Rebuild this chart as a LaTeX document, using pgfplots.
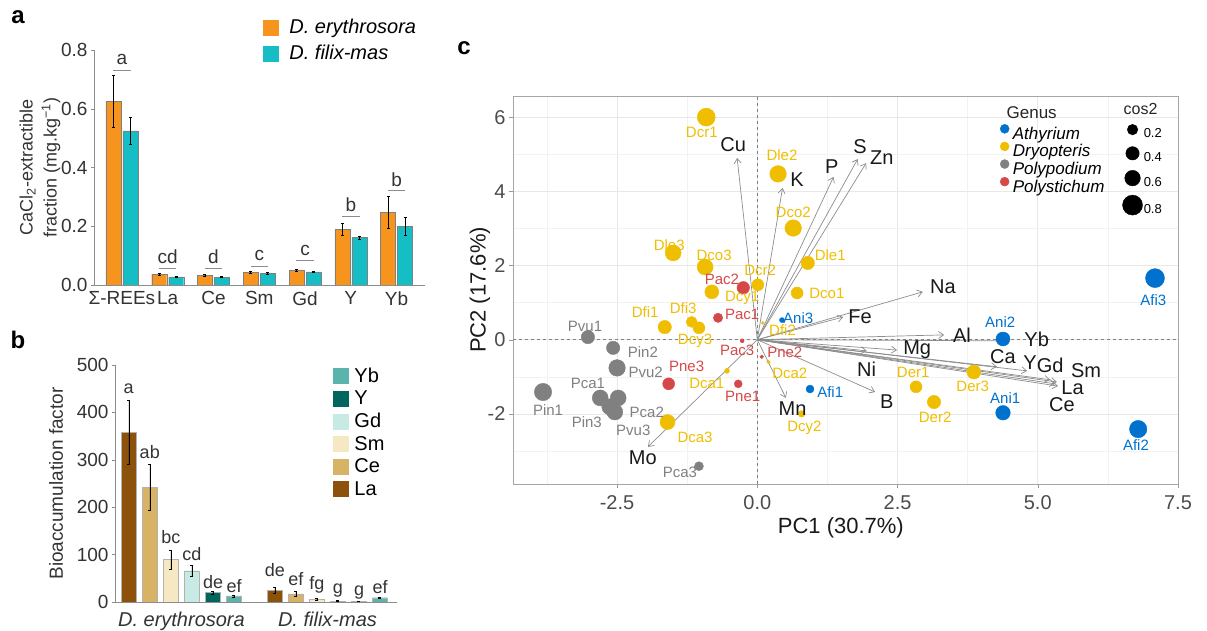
\documentclass[border=0pt]{standalone}
\usepackage{pgfplots}
\pgfplotsset{compat=1.18}
\usepackage{fontspec}
\setmainfont{Liberation Sans}
\usetikzlibrary{arrows.meta}
\pgfplotsset{/pgf/number format/assume math mode=true}

\definecolor{cor}{RGB}{247,148,29}
\definecolor{cte}{RGB}{20,190,196}
\definecolor{cLa}{HTML}{8C510A}
\definecolor{cCe}{HTML}{D8B365}
\definecolor{cSm}{HTML}{F6E8C3}
\definecolor{cGd}{HTML}{C7EAE5}
\definecolor{cY}{HTML}{01665E}
\definecolor{cYb}{HTML}{5AB4AC}
\definecolor{cblue}{RGB}{0,114,206}
\definecolor{cyel}{RGB}{240,190,0}
\definecolor{cgray}{RGB}{128,128,128}
\definecolor{cred}{RGB}{214,72,72}
\newcommand{\fz}[1]{\fontsize{#1}{#1}\selectfont}

\begin{document}
\begin{tikzpicture}
\path[use as bounding box] (0pt,0pt) rectangle (1207pt,631pt);
\node[font=\bfseries\fz{24}] at (18pt,614pt) {a};
\node[font=\bfseries\fz{24}] at (18pt,291pt) {b};
\node[font=\bfseries\fz{24}] at (464pt,583pt) {c};

% ---------------- panel a
\begin{axis}[
  at={(94pt,346pt)}, anchor=south west, scale only axis,
  width=331pt, height=235pt,
  xmin=-0.61, xmax=6.62, ymin=0, ymax=0.8,
  axis lines*=left, axis line style={black!45, line width=0.8pt},
  ybar=2pt, bar width=15pt,
  xtick={0,1,2,3,4,5,6}, xticklabels={Σ-REEs,La,Ce,Sm,Gd,Y,Yb},
  ytick={0,0.2,0.4,0.6,0.8},
  yticklabel style={/pgf/number format/fixed, /pgf/number format/fixed zerofill, /pgf/number format/precision=1},
  tick label style={font=\fz{19}, text=black!80},
  xtick style={draw=none},
  tick align=outside, major tick length=3pt, ytick style={black!45},
  ylabel={CaCl\textsubscript{2}-extractible\\fraction (mg.kg\textsuperscript{−1})},
  ylabel style={at={(axis description cs:-0.163,0.5)}, anchor=center, align=center, font=\fontsize{18}{24}\selectfont, text=black!80},
  legend style={at={(axis description cs:0.51,1.14)}, anchor=north west, draw=none, fill=none, font=\fz{20}, row sep=6pt, inner sep=0pt},
  legend cell align=left,
]
\addplot[fill=cor, draw=black!50, line width=0.4pt,
  legend image code/.code={\fill[cor] (0pt,-7.5pt) rectangle (15pt,7.5pt); \path (24pt,0pt);},
  error bars/.cd, y dir=both, y explicit,
  error bar style={black, line width=0.6pt},
  error mark options={rotate=90, mark size=1.5pt, black, line width=0.6pt}]
  coordinates {
  (0,0.626) +- (0,0.088)
  (1,0.037) +- (0,0.004)
  (2,0.032) +- (0,0.003)
  (3,0.042) +- (0,0.003)
  (4,0.049) +- (0,0.004)
  (5,0.190) +- (0,0.020)
  (6,0.247) +- (0,0.055)
};
\addlegendentry{\textit{D. erythrosora}}
\addplot[fill=cte, draw=black!50, line width=0.4pt,
  legend image code/.code={\fill[cte] (0pt,-7.5pt) rectangle (15pt,7.5pt); \path (24pt,0pt);},
  error bars/.cd, y dir=both, y explicit,
  error bar style={black, line width=0.6pt},
  error mark options={rotate=90, mark size=1.5pt, black, line width=0.6pt}]
  coordinates {
  (0,0.525) +- (0,0.045)
  (1,0.028) +- (0,0.002)
  (2,0.027) +- (0,0.001)
  (3,0.039) +- (0,0.003)
  (4,0.045) +- (0,0.002)
  (5,0.162) +- (0,0.005)
  (6,0.199) +- (0,0.030)
};
\addlegendentry{\textit{D. filix-mas}}
\begin{scope}[font=\fz{19}, text=black!80]
\node at (axis cs:0,0.766) {a};
\node at (axis cs:1,0.095) {cd};
\node at (axis cs:2,0.095) {d};
\node at (axis cs:3,0.102) {c};
\node at (axis cs:4,0.119) {c};
\node at (axis cs:5,0.272) {b};
\node at (axis cs:6,0.357) {b};
\end{scope}
\begin{scope}[black!45, line width=0.8pt]
\draw (axis cs:-0.19,0.732) -- (axis cs:0.19,0.732);
\draw (axis cs:0.81,0.058) -- (axis cs:1.19,0.058);
\draw (axis cs:1.81,0.058) -- (axis cs:2.19,0.058);
\draw (axis cs:2.81,0.065) -- (axis cs:3.19,0.065);
\draw (axis cs:3.81,0.085) -- (axis cs:4.19,0.085);
\draw (axis cs:4.81,0.235) -- (axis cs:5.19,0.235);
\draw (axis cs:5.81,0.323) -- (axis cs:6.19,0.323);
\end{scope}
\end{axis}

% ---------------- panel b
\begin{axis}[
  at={(115pt,29pt)}, anchor=south west, scale only axis,
  width=282pt, height=237pt,
  xmin=-0.455, xmax=1.476, ymin=0, ymax=500,
  axis lines*=left, axis line style={black!45, line width=0.8pt},
  ybar=6pt, bar width=15pt,
  xtick={0,1}, xticklabels={\textit{D. erythrosora},\textit{D. filix-mas}},
  ytick={0,100,200,300,400,500},
  tick label style={font=\fz{19}, text=black!80},
  x tick label style={font=\fz{20}, yshift=-3pt},
  xtick style={draw=none},
  tick align=outside, major tick length=3pt, ytick style={black!45},
  ylabel={Bioaccumulation factor},
  ylabel style={at={(axis description cs:-0.209,0.5)}, anchor=center, font=\fz{19}, text=black!80},
  legend style={at={(axis description cs:0.773,0.996)}, anchor=north west, draw=none, fill=none, font=\fz{20}, row sep=3pt, inner sep=0pt},
  legend cell align=left, reverse legend,
  every axis plot/.append style={draw=black!30, line width=0.3pt},
]
\addplot[fill=cLa, legend image code/.code={\fill[cLa] (0pt,-7.5pt) rectangle (15pt,7.5pt); \path (19pt,0pt);},
  error bars/.cd, y dir=both, y explicit, error bar style={black, line width=0.6pt},
  error mark options={rotate=90, mark size=1.5pt, black}]
  coordinates {(0,358) +- (0,67) (1,25) +- (0,6)};
\addlegendentry{La}
\addplot[fill=cCe, legend image code/.code={\fill[cCe] (0pt,-7.5pt) rectangle (15pt,7.5pt); \path (19pt,0pt);},
  error bars/.cd, y dir=both, y explicit, error bar style={black, line width=0.6pt},
  error mark options={rotate=90, mark size=1.5pt, black}]
  coordinates {(0,242) +- (0,49) (1,17) +- (0,5)};
\addlegendentry{Ce}
\addplot[fill=cSm, legend image code/.code={\fill[cSm] (0pt,-7.5pt) rectangle (15pt,7.5pt); \path (19pt,0pt);},
  error bars/.cd, y dir=both, y explicit, error bar style={black, line width=0.6pt},
  error mark options={rotate=90, mark size=1.5pt, black}]
  coordinates {(0,90) +- (0,20) (1,5) +- (0,2)};
\addlegendentry{Sm}
\addplot[fill=cGd, legend image code/.code={\fill[cGd] (0pt,-7.5pt) rectangle (15pt,7.5pt); \path (19pt,0pt);},
  error bars/.cd, y dir=both, y explicit, error bar style={black, line width=0.6pt},
  error mark options={rotate=90, mark size=1.5pt, black}]
  coordinates {(0,66) +- (0,12) (1,2) +- (0,1)};
\addlegendentry{Gd}
\addplot[fill=cY, legend image code/.code={\fill[cY] (0pt,-7.5pt) rectangle (15pt,7.5pt); \path (19pt,0pt);},
  error bars/.cd, y dir=both, y explicit, error bar style={black, line width=0.6pt},
  error mark options={rotate=90, mark size=1.5pt, black}]
  coordinates {(0,20) +- (0,3) (1,1) +- (0,0.5)};
\addlegendentry{Y}
\addplot[fill=cYb, legend image code/.code={\fill[cYb] (0pt,-7.5pt) rectangle (15pt,7.5pt); \path (19pt,0pt);},
  error bars/.cd, y dir=both, y explicit, error bar style={black, line width=0.6pt},
  error mark options={rotate=90, mark size=1.5pt, black}]
  coordinates {(0,13) +- (0,2) (1,9) +- (0,2)};
\addlegendentry{Yb}
\begin{scope}[font=\fz{18}, text=black!80]
\node at (axis cs:-0.361,449) {a};
\node at (axis cs:-0.217,317) {ab};
\node at (axis cs:-0.072,137) {bc};
\node at (axis cs:0.072,101) {cd};
\node at (axis cs:0.217,43) {de};
\node at (axis cs:0.361,34) {ef};
\node at (axis cs:0.639,68) {de};
\node at (axis cs:0.783,49) {ef};
\node at (axis cs:0.928,36) {fg};
\node at (axis cs:1.072,25) {g};
\node at (axis cs:1.217,19) {g};
\node at (axis cs:1.361,32) {ef};
\end{scope}
\end{axis}

% ---------------- panel c
\begin{axis}[
  at={(513pt,147pt)}, anchor=south west, scale only axis,
  width=665pt, height=388pt,
  xmin=-4.355, xmax=7.5, ymin=-3.89, ymax=6.57,
  xtick={-2.5,0,2.5,5,7.5}, ytick={-2,0,2,4,6},
  minor xtick={-3.75,-1.25,1.25,3.75,6.25}, minor ytick={-3,-1,1,3,5},
  grid=both, major grid style={black!9, line width=0.6pt}, minor grid style={black!5, line width=0.5pt},
  axis line style={black!35, line width=0.9pt},
  tick align=outside, major tick length=4pt, minor tick length=0pt,
  tick style={black!40}, xtick pos=bottom, ytick pos=left,
  xticklabel style={/pgf/number format/fixed, /pgf/number format/fixed zerofill, /pgf/number format/precision=1, yshift=-4pt},
  tick label style={font=\fz{20}, text=black!70},
  xlabel={PC1 (30.7\%)}, ylabel={PC2 (17.6\%)},
  xlabel style={at={(axis description cs:0.493,-0.113)}, anchor=center, font=\fz{22}, text=black!90},
  ylabel style={at={(axis description cs:-0.0496,0.5)}, anchor=center, font=\fz{22}, text=black!90},
  legend style={at={(axis description cs:0.732,0.928)}, anchor=north west, draw=none, fill=none, font=\itshape\fz{17}, row sep=0pt, inner sep=0pt, nodes={inner sep=1pt}},
  legend cell align=left,
]
\addplot[black!50, dash pattern=on 3pt off 3pt, line width=0.8pt, forget plot] coordinates {(0,-3.89) (0,6.57)};
\addplot[black!50, dash pattern=on 3pt off 3pt, line width=0.8pt, forget plot] coordinates {(-4.355,0) (7.5,0)};
\addplot[black!45, line width=0.7pt, -{Straight Barb[length=5pt,width=7pt]}, forget plot,
  quiver={u=\thisrow{u}, v=\thisrow{v}}] table {
x y u v
0 0 -0.36 4.90
0 0 0.45 4.09
0 0 1.36 4.39
0 0 1.79 4.87
0 0 1.94 4.76
0 0 2.95 1.29
0 0 1.53 0.61
0 0 3.33 0.13
0 0 4.45 -0.03
0 0 2.49 -0.28
0 0 1.95 -0.30
0 0 4.27 -0.73
0 0 4.81 -0.84
0 0 5.22 -1.08
0 0 5.34 -1.14
0 0 5.36 -1.25
0 0 5.31 -1.19
0 0 2.10 -1.41
0 0 0.51 -1.57
0 0 -1.95 -2.89
};
% points
\addplot[scatter, only marks, mark=*, forget plot,
  scatter/use mapped color={draw=cyel, fill=cyel},
  visualization depends on={\thisrow{r}\as\rr},
  scatter/@pre marker code/.append style={/tikz/mark size=\rr}] table {
x y r
-0.91 6.00 9
0.37 4.47 8.3
0.64 3.01 8.3
-1.50 2.34 8
-0.93 1.96 8
0.90 2.07 6.7
0.01 1.48 6
-0.81 1.29 7
0.71 1.26 6
-1.65 0.34 6.7
-1.17 0.48 5.5
-1.04 0.32 6
0.10 0.45 1.5
-0.54 -0.84 2.5
0.20 -0.60 1.8
-1.60 -2.22 7.5
0.79 -2.00 3.3
2.83 -1.27 6
3.86 -0.87 7
3.15 -1.68 6.7
};
\addplot[scatter, only marks, mark=*, forget plot,
  scatter/use mapped color={draw=cred, fill=cred},
  visualization depends on={\thisrow{r}\as\rr},
  scatter/@pre marker code/.append style={/tikz/mark size=\rr}] table {
x y r
-0.25 1.40 6.3
-0.70 0.59 4.7
-0.27 -0.03 2
0.08 -0.46 1.8
-1.58 -1.19 6
-0.34 -1.19 4
};
\addplot[scatter, only marks, mark=*, forget plot,
  scatter/use mapped color={draw=cgray, fill=cgray},
  visualization depends on={\thisrow{r}\as\rr},
  scatter/@pre marker code/.append style={/tikz/mark size=\rr}] table {
x y r
-3.02 0.07 6.7
-2.57 -0.22 6.7
-2.50 -0.76 8.3
-3.82 -1.41 8.7
-2.80 -1.57 8
-2.48 -1.57 8
-2.63 -1.81 8
-2.54 -1.95 8
-1.04 -3.41 4.5
};
\addplot[scatter, only marks, mark=*, forget plot,
  scatter/use mapped color={draw=cblue, fill=cblue},
  visualization depends on={\thisrow{r}\as\rr},
  scatter/@pre marker code/.append style={/tikz/mark size=\rr}] table {
x y r
0.44 0.53 2.5
0.94 -1.33 4
4.38 0.02 7
4.38 -1.97 7.3
7.09 1.66 9.5
6.79 -2.41 8.7
};
% point labels
\addplot[draw=none, mark=none, forget plot, nodes near coords, nodes near coords align={center},
  point meta=explicit symbolic,
  every node near coord/.append style={font=\fz{15}, text=cyel, inner sep=0pt}] table[meta=lab] {
x y lab
-0.99 5.60 Dcr1
0.44 4.98 Dle2
0.64 3.42 Dco2
-1.57 2.55 Dle3
-0.77 2.28 Dco3
1.30 2.28 Dle1
0.05 1.88 Dcr2
-0.27 1.13 Dcy1
1.24 1.26 Dco1
-2.00 0.75 Dfi1
-1.32 0.86 Dfi3
-1.11 -0.03 Dcy3
0.45 0.25 Dfi2
-0.90 -1.17 Dca1
0.58 -0.90 Dca2
-1.11 -2.63 Dca3
0.84 -2.38 Dcy2
2.78 -0.89 Der1
3.84 -1.27 Der3
3.17 -2.08 Der2
};
\addplot[draw=none, mark=none, forget plot, nodes near coords, nodes near coords align={center},
  point meta=explicit symbolic,
  every node near coord/.append style={font=\fz{15}, text=cred, inner sep=0pt}] table[meta=lab] {
x y lab
-0.63 1.63 Pac2
-0.27 0.67 Pac1
-0.36 -0.30 Pac3
0.49 -0.33 Pne2
-1.26 -0.73 Pne3
-0.26 -1.54 Pne1
};
\addplot[draw=none, mark=none, forget plot, nodes near coords, nodes near coords align={center},
  point meta=explicit symbolic,
  every node near coord/.append style={font=\fz{15}, text=cgray, inner sep=0pt}] table[meta=lab] {
x y lab
-3.07 0.35 Pvu1
-2.04 -0.33 Pin2
-1.99 -0.87 Pvu2
-3.73 -1.89 Pin1
-3.02 -1.19 Pca1
-1.97 -1.95 Pca2
-3.04 -2.22 Pin3
-2.21 -2.43 Pvu3
-1.38 -3.57 Pca3
};
\addplot[draw=none, mark=none, forget plot, nodes near coords, nodes near coords align={center},
  point meta=explicit symbolic,
  every node near coord/.append style={font=\fz{15}, text=cblue, inner sep=0pt}] table[meta=lab] {
x y lab
0.73 0.58 Ani3
1.30 -1.41 Afi1
4.33 0.48 Ani2
4.42 -1.57 Ani1
7.06 1.07 Afi3
6.75 -2.84 Afi2
};
\addplot[draw=none, mark=none, forget plot, nodes near coords, nodes near coords align={center},
  point meta=explicit symbolic,
  every node near coord/.append style={font=\fz{20}, text=black!90, inner sep=0pt}] table[meta=lab] {
x y lab
-0.43 5.25 Cu
0.71 4.31 K
1.33 4.66 P
1.83 5.20 S
2.22 4.90 Zn
3.31 1.42 Na
1.83 0.61 Fe
3.65 0.13 Al
4.98 0.02 Yb
2.85 -0.28 Mg
4.38 -0.46 Ca
4.86 -0.63 Y
5.22 -0.68 Gd
5.86 -0.84 Sm
5.62 -1.29 La
5.43 -1.74 Ce
1.95 -0.81 Ni
2.31 -1.68 B
0.63 -1.86 Mn
-2.04 -3.19 Mo
};
\node[anchor=west, font=\fz{17}, text=black!85] at (axis description cs:0.737,0.956) {Genus};
\node[anchor=west, font=\fz{16}, text=black!85] at (axis description cs:0.913,0.966) {cos2};
\addlegendimage{legend image code/.code={\fill[cblue] (4pt,5pt) circle (4.5pt); \path (11pt,0pt);}}
\addlegendentry{Athyrium}
\addlegendimage{legend image code/.code={\fill[cyel] (4pt,5pt) circle (4.5pt); \path (11pt,0pt);}}
\addlegendentry{Dryopteris}
\addlegendimage{legend image code/.code={\fill[cgray] (4pt,5pt) circle (4.5pt); \path (11pt,0pt);}}
\addlegendentry{Polypodium}
\addlegendimage{legend image code/.code={\fill[cred] (4pt,5pt) circle (4.5pt); \path (11pt,0pt);}}
\addlegendentry{Polystichum}
\end{axis}

% cos2 legend
\begin{axis}[
  at={(513pt,147pt)}, anchor=south west, scale only axis,
  width=665pt, height=388pt, hide axis,
  xmin=0, xmax=1, ymin=0, ymax=1,
  legend style={at={(axis description cs:0.916,0.928)}, anchor=north west, draw=none, fill=none, font=\fz{13}, row sep=6pt, inner sep=0pt, nodes={inner sep=1pt}},
  legend cell align=left,
]
\addplot[draw=none, forget plot] coordinates {(0.5,0.5)};
\addlegendimage{legend image code/.code={\fill[black] (0pt,4.5pt) circle (5.3pt);}}
\addlegendentry{0.2}
\addlegendimage{legend image code/.code={\fill[black] (0pt,4.5pt) circle (6.7pt);}}
\addlegendentry{0.4}
\addlegendimage{legend image code/.code={\fill[black] (0pt,4.5pt) circle (7.8pt);}}
\addlegendentry{0.6}
\addlegendimage{legend image code/.code={\fill[black] (0pt,4.5pt) circle (10pt);}}
\addlegendentry{0.8}
\end{axis}
\end{tikzpicture}
\end{document}
